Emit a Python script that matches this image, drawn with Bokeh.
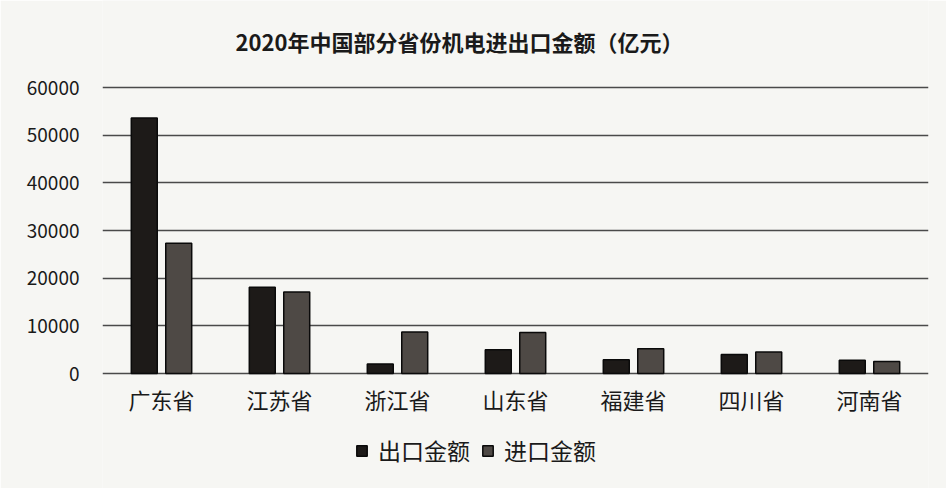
from bokeh.plotting import figure
from bokeh.models import Range1d, ColumnDataSource, Legend, LegendItem, NumeralTickFormatter
from bokeh.core.properties import value
from bokeh.transform import dodge
from bokeh.embed import file_html
from bokeh.resources import INLINE

provinces = ["广东省", "江苏省", "浙江省", "山东省", "福建省", "四川省", "河南省"]
export_vals = [53600, 18100, 2000, 5000, 2900, 4000, 2800]
import_vals = [27300, 17100, 8700, 8600, 5200, 4500, 2500]
title_text = "2020年中国部分省份机电进出口金额（亿元）"
series_names = ["出口金额", "进口金额"]

FONT = "Noto Sans CJK SC"
H = 488
PX = 286 / 60000.0          # pixels per unit
ZERO_Y = 373                # pixel row of value 0
src = ColumnDataSource(dict(cat=provinces, exp=export_vals, imp=import_vals))

p = figure(frame_width=826, frame_height=H, x_range=provinces,
           y_range=Range1d(-(H - ZERO_Y) / PX, ZERO_Y / PX),
           x_axis_location=None,
           output_backend="svg", toolbar_location=None,
           min_border_left=102, min_border_right=18, min_border_top=0, min_border_bottom=0)
p.background_fill_color = "#f6f6f3"
p.border_fill_color = "#f6f6f3"
p.outline_line_color = None

r1 = p.vbar(x=dodge("cat", -0.146, range=p.x_range), top="exp", width=0.22, source=src,
            fill_color="#1d1a18", line_color="#0a0a0a", line_width=1.5)
r2 = p.vbar(x=dodge("cat", 0.146, range=p.x_range), top="imp", width=0.22, source=src,
            fill_color="#4e4945", line_color="#0a0a0a", line_width=1.5)

# category labels below the baseline
p.text(x=provinces, y=[-(398 - ZERO_Y) / PX] * len(provinces), text=provinces,
       text_align="center", text_baseline="middle", text_font=value(FONT),
       text_font_size="22px", text_color="#1a1a1a")

# title
p.text(x=[provinces[3]], y=[(ZERO_Y - 40) / PX], text=[title_text], x_offset=-56,
       text_align="center", text_baseline="middle", text_font=value(FONT),
       text_font_size="22px", text_font_style="bold", text_color="#1a1a1a")

p.yaxis.ticker = [0, 10000, 20000, 30000, 40000, 50000, 60000]
p.yaxis.formatter = NumeralTickFormatter(format="0")
p.yaxis.axis_line_color = None
p.yaxis.major_tick_line_color = None
p.yaxis.minor_tick_line_color = None
p.yaxis.major_label_text_font = FONT
p.yaxis.major_label_text_font_size = "19px"
p.yaxis.major_label_text_color = "#1a1a1a"
p.yaxis.major_label_standoff = 17

p.xgrid.grid_line_color = None
p.ygrid.grid_line_color = "#4a4a4a"
p.ygrid.grid_line_width = 1.4

legend = Legend(items=[LegendItem(label=series_names[0], renderers=[r1]),
                       LegendItem(label=series_names[1], renderers=[r2])],
                orientation="horizontal", location=(253, 21),
                label_text_font=FONT, label_text_font_size="23px", label_text_color="#1a1a1a",
                glyph_width=13, glyph_height=13, spacing=11, label_standoff=10,
                background_fill_alpha=0, border_line_color=None, margin=0, padding=6)
p.add_layout(legend, "center")

open("out.html", "w").write(file_html(p, INLINE))
